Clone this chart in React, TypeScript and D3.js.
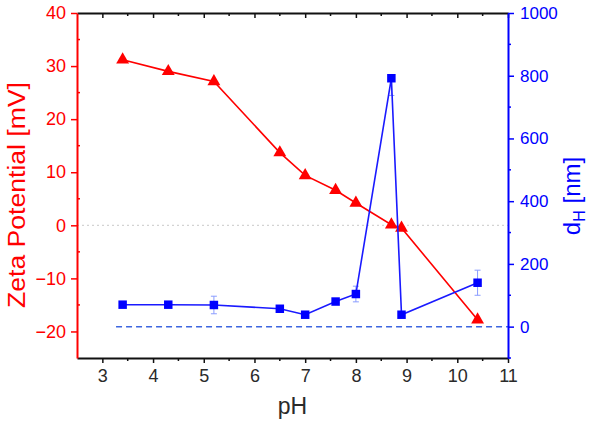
import React, { useEffect, useRef } from "react";
import * as d3 from "d3";

// pH values measured
const phZeta = [3.4, 4.3, 5.2, 6.5, 7.0, 7.6, 8.0, 8.7, 8.9, 10.4];
const zeta = [31.2, 29.0, 27.1, 13.7, 9.4, 6.6, 4.2, 0.1, -0.5, -17.8];

const phSize = [3.4, 4.3, 5.2, 6.5, 7.0, 7.6, 8.0, 8.7, 8.9, 10.4];
const dH = [70, 70, 69, 57, 38, 80, 104, 792, 38, 140];
const dHErrLo = [0, 0, 28, 0, 0, 0, 25, 55, 0, 40];
const dHErrHi = [0, 0, 28, 0, 0, 0, 25, 0, 0, 40];

const xTicks = [3, 4, 5, 6, 7, 8, 9, 10, 11];
const zetaTicks = [-20, -10, 0, 10, 20, 30, 40];
const dHTicks = [0, 200, 400, 600, 800, 1000];

const W = 591, H = 428;
const M = { left: 77, right: 508, top: 13, bottom: 358 };
const RED = "#ff0000";
const BLUE = "#0000ff";
const FONT = "Liberation Sans, Arial, sans-serif";

export default function App() {
  const svgRef = useRef<SVGSVGElement>(null);

  useEffect(() => {
    const svg = d3.select(svgRef.current);
    svg.selectAll("*").remove();

    const x = d3.scaleLinear().domain([2.5, 11]).range([M.left, M.right]);
    const yL = d3.scaleLinear().domain([-25, 40]).range([M.bottom, M.top]);
    const yR = d3.scaleLinear().domain([-100, 1000]).range([M.bottom, M.top]);

    // reference lines
    svg.append("line")
      .attr("x1", M.left).attr("x2", M.right)
      .attr("y1", yL(0)).attr("y2", yL(0))
      .attr("stroke", "#c8c8c8").attr("stroke-width", 1)
      .attr("stroke-dasharray", "2,3");

    svg.append("line")
      .attr("x1", x(3.27)).attr("x2", M.right)
      .attr("y1", yR(0)).attr("y2", yR(0))
      .attr("stroke", "#3d66e0").attr("stroke-width", 1.5)
      .attr("stroke-dasharray", "6,4");

    const minor = (g, ticks, scale, dir, len) => {
      g.selectAll(null).data(ticks).join("line")
        .attr("x1", d => dir.h ? scale(d) : dir.x0)
        .attr("x2", d => dir.h ? scale(d) : dir.x0 + dir.s * len)
        .attr("y1", d => dir.h ? dir.y0 : scale(d))
        .attr("y2", d => dir.h ? dir.y0 + dir.s * len : scale(d));
    };

    const styleAxis = (g, color) => {
      g.select(".domain").attr("stroke", color).attr("stroke-width", 2);
      g.selectAll(".tick line").attr("stroke", color).attr("stroke-width", 1.5);
      g.selectAll(".tick text").attr("fill", color)
        .style("font-family", FONT).style("font-size", "18px");
    };

    // bottom axis
    const gB = svg.append("g").attr("transform", `translate(0,${M.bottom})`)
      .call(d3.axisBottom(x).tickValues(xTicks).tickFormat(d3.format("d")).tickSize(5).tickSizeOuter(0).tickPadding(6));
    styleAxis(gB, "#111");
    gB.selectAll(".tick text").attr("fill", "#2a2a2a");
    const gBm = svg.append("g").attr("stroke", "#111").attr("stroke-width", 1.5);
    minor(gBm, d3.range(3.5, 11, 1), x, { h: true, y0: M.bottom, s: 1 }, 3);

    // top axis
    const gT = svg.append("g").attr("transform", `translate(0,${M.top})`)
      .call(d3.axisBottom(x).tickValues(xTicks).tickFormat(() => "").tickSize(5).tickSizeOuter(0));
    styleAxis(gT, "#111");
    const gTm = svg.append("g").attr("stroke", "#111").attr("stroke-width", 1.5);
    minor(gTm, d3.range(3.5, 11, 1), x, { h: true, y0: M.top, s: 1 }, 3);

    // left axis
    const gL = svg.append("g").attr("transform", `translate(${M.left},0)`)
      .call(d3.axisLeft(yL).tickValues(zetaTicks).tickFormat(d3.format("d")).tickSize(6).tickSizeOuter(0).tickPadding(5));
    styleAxis(gL, RED);
    gL.selectAll(".tick text").text(d => (d < 0 ? "\u2212" + Math.abs(d) : d));
    const gLm = svg.append("g").attr("stroke", RED).attr("stroke-width", 1.5);
    minor(gLm, d3.range(-15, 40, 10), yL, { h: false, x0: M.left, s: 1 }, 3);

    // right axis
    const gR = svg.append("g").attr("transform", `translate(${M.right},0)`)
      .call(d3.axisRight(yR).tickValues(dHTicks).tickFormat(d3.format("d")).tickSize(6).tickSizeOuter(0).tickPadding(6));
    styleAxis(gR, BLUE);
    gR.selectAll(".tick text").style("font-size", "17px");
    const gRm = svg.append("g").attr("stroke", BLUE).attr("stroke-width", 1.5);
    minor(gRm, d3.range(-100, 1000, 200), yR, { h: false, x0: M.right, s: 1 }, 3);

    // zeta series
    const zd = phZeta.map((p, i) => [p, zeta[i]]);
    svg.append("path")
      .datum(zd)
      .attr("d", d3.line().x(d => x(d[0])).y(d => yL(d[1])))
      .attr("fill", "none").attr("stroke", RED).attr("stroke-width", 1.6);
    svg.selectAll(null).data(zd).join("path")
      .attr("d", d3.symbol(d3.symbolTriangle, 72))
      .attr("transform", d => `translate(${x(d[0])},${yL(d[1])})`)
      .attr("fill", RED);

    // size series
    const sd = phSize.map((p, i) => [p, dH[i], dHErrLo[i], dHErrHi[i]]);
    const eb = svg.append("g").attr("stroke", "#8a9cff").attr("stroke-width", 1);
    sd.filter(d => d[2] > 0 || d[3] > 0).forEach(d => {
      eb.append("line").attr("x1", x(d[0])).attr("x2", x(d[0]))
        .attr("y1", yR(d[1] - d[2])).attr("y2", yR(d[1] + d[3]));
      [d[2] > 0 ? d[1] - d[2] : null, d[3] > 0 ? d[1] + d[3] : null].forEach(v => {
        if (v === null) return;
        eb.append("line").attr("x1", x(d[0]) - 3).attr("x2", x(d[0]) + 3)
          .attr("y1", yR(v)).attr("y2", yR(v));
      });
    });
    svg.append("path")
      .datum(sd)
      .attr("d", d3.line().x(d => x(d[0])).y(d => yR(d[1])))
      .attr("fill", "none").attr("stroke", "#1a1aff").attr("stroke-width", 1.6);
    svg.selectAll(null).data(sd).join("path")
      .attr("d", d3.symbol(d3.symbolSquare, 72))
      .attr("transform", d => `translate(${x(d[0])},${yR(d[1])})`)
      .attr("fill", BLUE);

    // titles
    svg.append("text")
      .attr("transform", `translate(25,195) rotate(-90)`)
      .attr("text-anchor", "middle").attr("fill", RED)
      .attr("textLength", 226).attr("lengthAdjust", "spacingAndGlyphs")
      .style("font-family", FONT).style("font-size", "23px")
      .text("Zeta Potential [mV]");

    const rt = svg.append("text")
      .attr("transform", `translate(580,196) rotate(-90)`)
      .attr("text-anchor", "middle").attr("fill", BLUE)
      .style("font-family", FONT).style("font-size", "24px");
    rt.append("tspan").text("d");
    rt.append("tspan").attr("dy", 5).style("font-size", "16px").text("H");
    rt.append("tspan").attr("dy", -5).text(" [nm]");

    svg.append("text")
      .attr("x", (M.left + M.right) / 2).attr("y", 414)
      .attr("text-anchor", "middle").attr("fill", "#2a2a2a")
      .style("font-family", FONT).style("font-size", "23px")
      .text("pH");
  }, []);

  return (
    <svg ref={svgRef} width={W} height={H}
      style={{ position: "absolute", left: 0, top: 0, background: "#fff" }} />
  );
}
